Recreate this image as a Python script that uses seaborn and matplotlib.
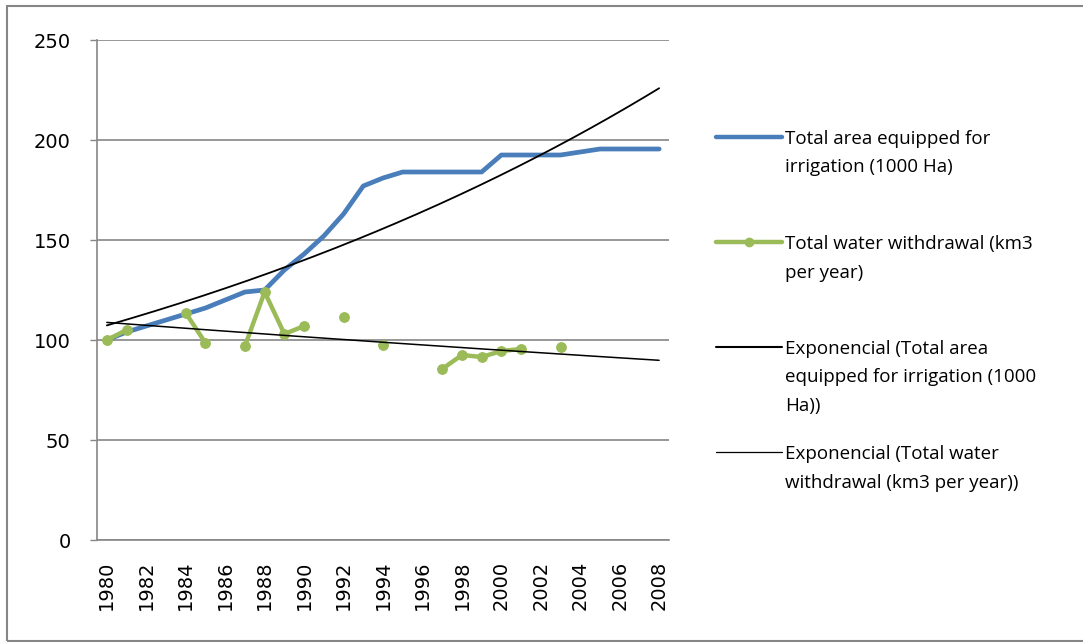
"""Irrigation area vs water withdrawal 1980-2008 with exponential trendlines"""

import matplotlib
matplotlib.use('Agg')
import matplotlib.pyplot as plt
import numpy as np
import pandas as pd
import seaborn as sns
from matplotlib.lines import Line2D
from matplotlib.patches import Rectangle

years = list(range(1980, 2009))

# total area equipped for irrigation (1000 Ha)
area = [100, 104, 107, 110, 113, 116, 120, 124, 125, 135, 143, 152, 163, 177, 181,
        184, 184, 184, 184, 184, 192.5, 192.5, 192.5, 192.5, 194, 195.5, 195.5, 195.5, 195.5]

# total water withdrawal (km3 per year), blank years have no data
water = [100, 105, np.nan, np.nan, 113.5, 98.5, np.nan, 97, 124, 103, 107, np.nan, 111.5,
         np.nan, 97.5, np.nan, np.nan, 85.5, 92.5, 91.5, 94.5, 95.5, np.nan, 96.5,
         np.nan, np.nan, np.nan, np.nan, np.nan]

legend_labels = [
    'Total area equipped for\nirrigation (1000 Ha)\n',
    'Total water withdrawal (km3\nper year)\n',
    'Exponencial (Total area\nequipped for irrigation (1000\nHa))',
    'Exponencial (Total water\nwithdrawal (km3 per year))\n',
]

BLUE = '#4a7ebb'
GREEN = '#9bbb59'
GRAY = '#868686'


def exp_trend(x, y):
    """Exponential least squares fit, like the excel trendline"""
    x = np.asarray(x, float)
    y = np.asarray(y, float)
    ok = ~np.isnan(y)
    b, a = np.polyfit(x[ok] - x[0], np.log(y[ok]), 1)
    return lambda t: np.exp(a + b * (np.asarray(t) - x[0]))


df = pd.DataFrame({'year': years, 'area': area, 'water': water})
# keep gaps in the water series: one unit per run of consecutive values
df['segment'] = df['water'].isna().cumsum()

sns.set_style('white')
plt.rcParams['font.family'] = ['DejaVu Sans']
plt.rcParams['text.color'] = 'black'
plt.rcParams['xtick.color'] = 'black'
plt.rcParams['ytick.color'] = 'black'

fig = plt.figure(figsize=(10.83, 6.42), dpi=100)
ax = fig.add_axes([97 / 1083, 1 - 540 / 642, 572 / 1083, 500 / 642])

sns.lineplot(data=df, x='year', y='area', color=BLUE, lw=3.4, ax=ax,
             legend=False, zorder=3)
sns.lineplot(data=df.dropna(subset=['water']), x='year', y='water', units='segment',
             estimator=None, color=GREEN, lw=3.2, marker='o', ms=7, mec=GREEN,
             ax=ax, legend=False, zorder=3)

tx = np.linspace(years[0], years[-1], 300)
sns.lineplot(x=tx, y=exp_trend(years, area)(tx), color='black', lw=1.3, ax=ax,
             legend=False, zorder=4)
sns.lineplot(x=tx, y=exp_trend(years, water)(tx), color='black', lw=1.1, ax=ax,
             legend=False, zorder=4)

ax.set_xlim(1979.5, 2008.5)
ax.set_ylim(0, 250)
ax.set_xticks(years[::2])
ax.set_xticklabels([str(y) for y in years[::2]], rotation=90)
ax.set_xticks(np.arange(1979.5, 2009), minor=True)
ax.set_yticks(range(0, 251, 50))
ax.tick_params(axis='x', which='major', length=0, pad=15, labelsize=14)
ax.tick_params(axis='x', which='minor', length=5, width=1, color=GRAY, direction='out')
ax.tick_params(axis='y', length=5, width=1, color=GRAY, direction='out', pad=14,
               labelsize=14, left=True)
ax.grid(axis='y', color=GRAY, lw=1.2)
ax.set_axisbelow(True)
ax.set_xlabel('')
ax.set_ylabel('')
for side in ['top', 'right']:
    ax.spines[side].set_visible(False)
for side in ['left', 'bottom']:
    ax.spines[side].set_color(GRAY)
    ax.spines[side].set_linewidth(1.2)

handles = [
    Line2D([], [], color=BLUE, lw=3.2),
    Line2D([], [], color=GREEN, lw=3.2, marker='o', ms=6, mec=GREEN),
    Line2D([], [], color='black', lw=1.5),
    Line2D([], [], color='black', lw=0.9),
]
leg = fig.legend(handles, legend_labels, loc='upper left',
                 bbox_to_anchor=(716 / 1083, 1 - 130 / 642), frameon=False,
                 borderpad=0, borderaxespad=0, handlelength=3.5, handleheight=0.9,
                 handletextpad=0.2, labelspacing=1.6,
                 prop={'family': 'Open Sans', 'size': 13.5})
for t in leg.get_texts():
    t.set_linespacing(1.75)
# excel puts the line marker next to the first text line
for col in leg._legend_handle_box.get_children():
    for item in col.get_children():
        item.align = 'top'

# chart area border
fig.add_artist(Rectangle((7 / 1083, 1 / 642), 1.1, 635 / 642, transform=fig.transFigure,
                         fill=False, ec=GRAY, lw=1.5))

fig.savefig('out.png', dpi=100)
